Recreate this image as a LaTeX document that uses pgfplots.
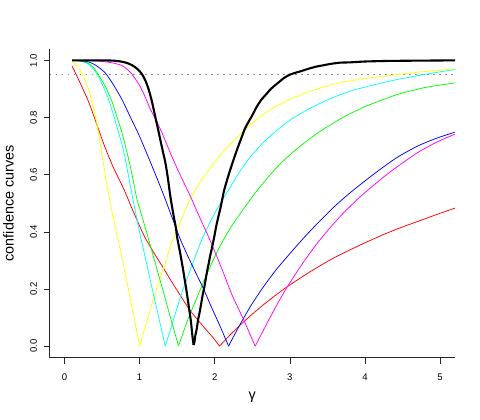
\documentclass[border=0pt]{standalone}
\usepackage{fontspec}
\setmainfont{Liberation Sans}
\usepackage{pgfplots}
\pgfplotsset{compat=1.18}
\definecolor{rred}{RGB}{255,0,0}
\definecolor{ryellow}{RGB}{255,255,0}
\definecolor{rcyan}{RGB}{0,255,255}
\definecolor{rgreen}{RGB}{0,255,0}
\definecolor{rblue}{RGB}{0,0,255}
\definecolor{rmagenta}{RGB}{255,0,255}
\begin{document}
\begin{tikzpicture}
\begin{axis}[name=ax, at={(0,0)}, anchor=south west,
  scale only axis, width=406pt, height=309pt,
  xmin=-0.2, xmax=5.2, ymin=-0.04, ymax=1.04,
  axis x line*=bottom, axis y line*=left,
  axis line style={-, line width=0.6pt, black!85},
  tick align=outside, major tick length=6pt,
  tick style={line width=0.6pt, black!85},
  xtick={0,1,2,3,4,5}, xticklabels={0,1,2,3,4,5},
  ytick={0,0.2,0.4,0.6,0.8,1}, yticklabels={0.0,0.2,0.4,0.6,0.8,1.0},
  ticklabel style={font=\fontsize{9.6}{11}\selectfont},
  xticklabel style={anchor=north, inner sep=0pt},
  xticklabel shift=10.5pt,
  yticklabel style={rotate=90, anchor=south, inner sep=0pt},
  yticklabel shift=6.5pt,
  xlabel={γ}, ylabel={confidence curves},
  label style={font=\fontsize{14.4}{16}\selectfont},
  xlabel style={at={(axis description cs:0.5,-0.1294)}, anchor=center},
  ylabel style={at={(axis description cs:-0.101,0.5)}, anchor=center},
  clip=true,
  every axis plot/.append style={line join=round},
]
% dotted reference line
\addplot[black!45, line width=1.6pt, dash pattern=on 1.8pt off 4.2pt] coordinates {(-0.2,0.95) (5.2,0.95)};
% red
\addplot[rred, line width=0.75pt, smooth, tension=0.4] coordinates {
(0.10,0.980) (0.20,0.925) (0.32,0.855) (0.43,0.775) (0.54,0.695) (0.65,0.625) (0.79,0.549)
(0.90,0.480) (1.00,0.420) (1.075,0.378) (1.20,0.322) (1.30,0.280) (1.42,0.228) (1.54,0.178)
(1.67,0.125) (1.78,0.090) (1.87,0.062) (1.97,0.032) (2.064,0.000)};
\addplot[rred, line width=0.75pt, smooth, tension=0.4] coordinates {
(2.064,0.000) (2.20,0.038) (2.34,0.074)
(2.50,0.112) (2.65,0.145) (2.80,0.176) (2.96,0.207) (3.15,0.240) (3.35,0.273) (3.54,0.302)
(3.70,0.324) (3.98,0.359) (4.20,0.385) (4.43,0.410) (4.70,0.436) (4.95,0.460) (5.20,0.483)};
% yellow
\addplot[ryellow, line width=0.75pt, smooth, tension=0.4] coordinates {
(0.10,0.995) (0.14,0.990) (0.22,0.960) (0.32,0.898) (0.41,0.805) (0.48,0.700) (0.56,0.570)
(0.66,0.435) (0.76,0.315) (0.88,0.160) (1.00,0.000)};
\addplot[ryellow, line width=0.75pt, smooth, tension=0.4] coordinates {
(1.00,0.000) (1.10,0.090) (1.23,0.205) (1.34,0.290)
(1.43,0.365) (1.52,0.420) (1.62,0.485) (1.72,0.537) (1.85,0.590) (2.03,0.654) (2.20,0.705)
(2.38,0.752) (2.56,0.793) (2.74,0.828) (3.00,0.863) (3.25,0.890) (3.54,0.914) (3.80,0.928)
(4.10,0.940) (4.43,0.950) (4.80,0.961) (5.20,0.970)};
% cyan
\addplot[rcyan, line width=0.75pt, smooth, tension=0.4] coordinates {
(0.10,1.000) (0.20,0.998) (0.30,0.990) (0.38,0.972) (0.45,0.944) (0.52,0.905) (0.586,0.863)
(0.65,0.810) (0.72,0.747) (0.78,0.690) (0.83,0.625) (0.88,0.555) (0.94,0.475) (1.01,0.385)
(1.075,0.310) (1.14,0.232) (1.24,0.117) (1.341,0.000)};
\addplot[rcyan, line width=0.75pt, smooth, tension=0.4] coordinates {
(1.341,0.000) (1.45,0.092) (1.563,0.188) (1.70,0.285)
(1.83,0.374) (2.00,0.465) (2.162,0.537) (2.32,0.605) (2.473,0.662) (2.62,0.705) (2.78,0.745)
(3.00,0.790) (3.25,0.830) (3.54,0.866) (3.80,0.892) (4.10,0.913) (4.43,0.933) (4.80,0.951) (5.20,0.968)};
% green
\addplot[rgreen, line width=0.75pt, smooth, tension=0.4] coordinates {
(0.10,1.000) (0.20,0.998) (0.30,0.992) (0.38,0.976) (0.45,0.950) (0.55,0.905) (0.631,0.856)
(0.70,0.800) (0.764,0.747) (0.82,0.690) (0.875,0.630) (0.92,0.572) (0.964,0.514) (1.03,0.455)
(1.119,0.374) (1.208,0.290) (1.30,0.205) (1.41,0.100) (1.518,0.000)};
\addplot[rgreen, line width=0.75pt, smooth, tension=0.4] coordinates {
(1.518,0.000) (1.63,0.085) (1.763,0.170)
(1.90,0.255) (2.05,0.340) (2.20,0.410) (2.383,0.480) (2.55,0.540) (2.739,0.600) (2.90,0.645)
(3.10,0.692) (3.35,0.742) (3.671,0.795) (4.00,0.838) (4.426,0.880) (4.80,0.905) (5.20,0.921)};
% blue
\addplot[rblue, line width=0.75pt, smooth, tension=0.4] coordinates {
(0.10,1.000) (0.30,0.996) (0.42,0.982) (0.542,0.956) (0.65,0.915) (0.764,0.863) (0.87,0.805)
(0.985,0.742) (1.07,0.690) (1.141,0.645) (1.25,0.575) (1.341,0.514) (1.41,0.465) (1.474,0.421)
(1.541,0.374) (1.65,0.310) (1.75,0.255) (1.851,0.200) (1.95,0.140) (2.07,0.070) (2.184,0.000)};
\addplot[rblue, line width=0.75pt, smooth, tension=0.4] coordinates {
(2.184,0.000) (2.30,0.058) (2.473,0.138) (2.65,0.208) (2.82,0.268) (3.005,0.325) (3.20,0.383)
(3.40,0.438) (3.60,0.490) (3.80,0.536) (4.00,0.578) (4.20,0.618) (4.426,0.660) (4.70,0.700)
(4.95,0.727) (5.20,0.749)};
% magenta
\addplot[rmagenta, line width=0.75pt, smooth, tension=0.4] coordinates {
(0.10,1.000) (0.40,0.998) (0.60,0.993) (0.764,0.982) (0.88,0.957) (0.985,0.918) (1.06,0.880)
(1.141,0.830) (1.22,0.790) (1.30,0.745) (1.407,0.677) (1.52,0.610) (1.674,0.525) (1.80,0.450)
(1.93,0.375) (2.08,0.280) (2.229,0.180) (2.38,0.095) (2.539,0.000)};
\addplot[rmagenta, line width=0.75pt, smooth, tension=0.4] coordinates {
(2.539,0.000) (2.70,0.082) (2.85,0.155) (2.961,0.205) (3.15,0.282) (3.35,0.355) (3.538,0.415)
(3.70,0.462) (3.893,0.512) (4.048,0.548) (4.25,0.592) (4.426,0.627) (4.70,0.677) (4.95,0.713)
(5.20,0.742)};
% black empirical
\addplot[black, line width=2.1pt, smooth, tension=0.3] coordinates {
(0.10,1.000) (0.50,1.000) (0.65,0.999) (0.75,0.996) (0.83,0.991) (0.90,0.983) (0.96,0.972)
(1.00,0.962) (1.04,0.948) (1.08,0.927) (1.12,0.898) (1.16,0.860) (1.20,0.812) (1.24,0.765)
(1.28,0.716) (1.31,0.680) (1.34,0.645) (1.36,0.615) (1.38,0.580) (1.40,0.540) (1.42,0.505)
(1.44,0.475) (1.46,0.445) (1.48,0.418) (1.50,0.380) (1.52,0.352) (1.54,0.325) (1.56,0.296)
(1.58,0.265) (1.60,0.232) (1.62,0.200) (1.64,0.165) (1.66,0.128) (1.68,0.092) (1.695,0.055)
(1.705,0.030) (1.718,0.004)};
\addplot[black, line width=2.1pt, smooth, tension=0.3] coordinates {
(1.718,0.004) (1.73,0.015) (1.74,0.035) (1.76,0.060) (1.78,0.095) (1.80,0.120)
(1.82,0.150) (1.84,0.180) (1.86,0.205) (1.88,0.235) (1.90,0.265) (1.92,0.290) (1.94,0.318)
(1.96,0.340) (1.99,0.378) (2.02,0.420) (2.05,0.455) (2.08,0.488) (2.12,0.540) (2.16,0.578)
(2.20,0.612) (2.25,0.652) (2.30,0.690) (2.35,0.725) (2.40,0.760) (2.45,0.785) (2.50,0.808)
(2.56,0.838) (2.62,0.862) (2.68,0.880) (2.74,0.898) (2.80,0.912) (2.86,0.925) (2.92,0.938)
(3.00,0.950) (3.08,0.957) (3.16,0.963) (3.24,0.970) (3.35,0.978) (3.45,0.983) (3.55,0.988)
(3.67,0.992) (3.80,0.993) (4.00,0.996) (4.30,0.998) (4.70,0.999) (5.20,1.000)};
\end{axis}
\path (-49pt,-62pt) rectangle (431pt,358pt);
\end{tikzpicture}
\end{document}
